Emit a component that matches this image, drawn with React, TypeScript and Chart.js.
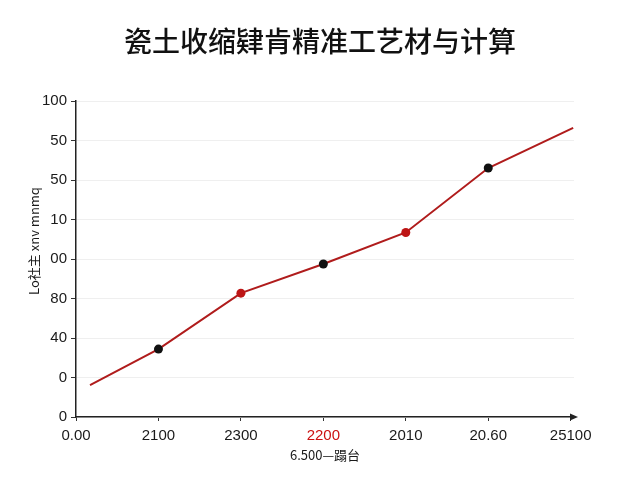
import React, { useEffect, useRef } from 'react';
import { Chart, registerables } from 'chart.js';

Chart.register(...registerables);

const TITLE = '瓷土收缩肄肯精准工艺材与计算';
const X_TITLE = '6.500—蹋台';
const Y_TITLE = 'Lo社主 xnv mnmq';

const xTickLabels = ['0.00', '2100', '2300', '2200', '2010', '20.60', '25100'];
const yTickLabels = ['0', '0', '40', '80', '00', '10', '50', '50', '100'];

const xValues = [0.17, 1, 2, 3, 4, 5, 6.03];
const yValues = [10.1, 21.5, 39.2, 48.4, 58.4, 78.8, 91.5];
// marker kind per point: 0 = none, 1 = black, 2 = red
const markerKinds = [0, 1, 2, 1, 2, 1, 0];

const LINE_COLOR = '#b01c1c';
const RED = '#bd1515';
const BLACK = '#111111';
const TICK_FONT = { family: '"Liberation Sans", Arial, sans-serif', size: 15 };

const overlayPlugin = {
  id: 'overlay',
  afterDraw(chart: any) {
    const { ctx } = chart;
    const xScale = chart.scales.x;
    ctx.save();
    // arrow head at end of x axis
    const ax = xScale.getPixelForValue(6.04) + 1;
    const ay = xScale.top;
    ctx.fillStyle = '#222';
    ctx.beginPath();
    ctx.moveTo(ax + 3, ay);
    ctx.lineTo(ax - 5, ay - 3.5);
    ctx.lineTo(ax - 5, ay + 3.5);
    ctx.closePath();
    ctx.fill();
    // title
    ctx.fillStyle = '#111';
    ctx.font = '500 28px "Noto Sans CJK SC", sans-serif';
    ctx.textAlign = 'center';
    ctx.textBaseline = 'middle';
    ctx.fillText(TITLE, 320, 41);
    // y axis title
    ctx.translate(34, 241);
    ctx.rotate(-Math.PI / 2);
    ctx.fillStyle = '#1a1a1a';
    ctx.font = '13px "Noto Sans CJK SC", sans-serif';
    ctx.fillText(Y_TITLE, 0, 0);
    ctx.restore();
  },
};

export default function App() {
  const ref = useRef<HTMLCanvasElement | null>(null);
  useEffect(() => {
    if (!ref.current) return;
    const chart = new Chart(ref.current, {
      type: 'line',
      data: {
        datasets: [
          {
            data: xValues.map((x, i) => ({ x, y: yValues[i] })),
            borderColor: LINE_COLOR,
            borderWidth: 2,
            pointRadius: markerKinds.map((k) => (k === 0 ? 0 : 4.5)),
            pointBackgroundColor: markerKinds.map((k) => (k === 2 ? RED : BLACK)),
            pointBorderColor: markerKinds.map((k) => (k === 2 ? RED : BLACK)),
            pointBorderWidth: 0,
            tension: 0,
          },
        ],
      },
      options: {
        animation: false,
        responsive: false,
        maintainAspectRatio: false,
        layout: { padding: { top: 101, right: 66, left: 0, bottom: 0 } },
        plugins: { legend: { display: false }, tooltip: { enabled: false }, title: { display: false } },
        scales: {
          x: {
            type: 'linear',
            min: 0,
            max: 6.04,
            afterFit(scale: any) {
              scale.height = 63;
            },
            afterBuildTicks(scale: any) {
              scale.ticks = [0, 1, 2, 3, 4, 5, 6].map((v) => ({ value: v }));
            },
            ticks: {
              autoSkip: false,
              maxRotation: 0,
              padding: 6,
              font: TICK_FONT,
              color: (c: any) => (c.index === 3 ? '#cc1111' : '#1a1a1a'),
              callback: (v: any) => xTickLabels[Math.round(Number(v))] ?? '',
            },
            grid: { drawOnChartArea: false, tickLength: 4, color: '#333', tickColor: '#333' },
            border: { color: '#222', width: 1.5 },
            title: {
              display: true,
              text: X_TITLE,
              color: '#1a1a1a',
              font: { family: '"Noto Sans CJK SC", sans-serif', size: 13 },
              padding: { top: 4, bottom: 17 },
            },
          },
          y: {
            type: 'linear',
            min: 0,
            max: 100,
            afterFit(scale: any) {
              scale.width = 76;
            },
            afterBuildTicks(scale: any) {
              scale.ticks = yTickLabels.map((_, i) => ({ value: i * 12.5 }));
            },
            ticks: {
              autoSkip: false,
              padding: 4,
              font: TICK_FONT,
              color: '#1a1a1a',
              callback: (_v: any, i: number) => yTickLabels[i],
            },
            grid: { color: '#efefef', lineWidth: 1, tickLength: 5, tickColor: '#333' },
            border: { color: '#222', width: 1.5 },
            title: { display: false },
          },
        },
      },
      plugins: [overlayPlugin],
    });
    return () => chart.destroy();
  }, []);
  return (
    <div style={{ position: 'fixed', left: 0, top: 0, width: 640, height: 480, background: '#fff' }}>
      <canvas ref={ref} width={640} height={480} style={{ width: 640, height: 480 }} />
    </div>
  );
}
